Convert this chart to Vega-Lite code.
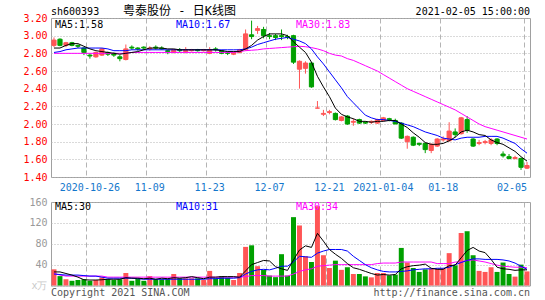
{
"$schema": "https://vega.github.io/schema/vega-lite/v6.json",
"padding": {"left": 20, "top": 4, "right": 5, "bottom": 0},
"background": "#ffffff",
"spacing": 3,
"config": {
  "view": {"stroke": "#a0a0a0", "strokeWidth": 1},
  "axis": {"labelFont": "DejaVu Sans Mono", "labelFontSize": 10, "domain": false, "ticks": false, "labelAngle": 0, "labelOverlap": false},
  "text": {"font": "DejaVu Sans Mono", "fontSize": 10}
},
"datasets": {"k": [
{"d":"2020-10-16","o":2.89,"h":2.98,"l":2.87,"c":2.95,"v":31,"m5":2.86,"m10":2.81,"m30":2.80,"vm5":26,"vm10":22,"vm30":23},
{"d":"2020-10-19","o":2.96,"h":2.97,"l":2.88,"c":2.89,"v":18,"m5":2.86,"m10":2.82,"m30":2.80,"vm5":26,"vm10":21,"vm30":20},
{"d":"2020-10-20","o":2.89,"h":2.93,"l":2.87,"c":2.92,"v":12,"m5":2.89,"m10":2.84,"m30":2.80,"vm5":23,"vm10":20,"vm30":18},
{"d":"2020-10-21","o":2.92,"h":2.93,"l":2.88,"c":2.89,"v":9,"m5":2.91,"m10":2.85,"m30":2.80,"vm5":20,"vm10":20,"vm30":18},
{"d":"2020-10-22","o":2.89,"h":2.90,"l":2.86,"c":2.88,"v":10.5,"m5":2.91,"m10":2.86,"m30":2.80,"vm5":16,"vm10":20,"vm30":18},
{"d":"2020-10-23","o":2.86,"h":2.87,"l":2.78,"c":2.81,"v":12,"m5":2.88,"m10":2.86,"m30":2.80,"vm5":11,"vm10":19,"vm30":18},
{"d":"2020-10-26","o":2.78,"h":2.80,"l":2.74,"c":2.77,"v":9,"m5":2.85,"m10":2.86,"m30":2.80,"vm5":10.5,"vm10":18,"vm30":18},
{"d":"2020-10-27","o":2.76,"h":2.82,"l":2.75,"c":2.81,"v":10.5,"m5":2.83,"m10":2.86,"m30":2.80,"vm5":10.5,"vm10":18,"vm30":18},
{"d":"2020-10-28","o":2.78,"h":2.86,"l":2.77,"c":2.85,"v":15.6,"m5":2.82,"m10":2.86,"m30":2.80,"vm5":11,"vm10":16,"vm30":18},
{"d":"2020-10-29","o":2.81,"h":2.82,"l":2.77,"c":2.79,"v":12,"m5":2.81,"m10":2.85,"m30":2.80,"vm5":12,"vm10":14,"vm30":16},
{"d":"2020-10-30","o":2.80,"h":2.81,"l":2.76,"c":2.78,"v":10.5,"m5":2.80,"m10":2.83,"m30":2.80,"vm5":12,"vm10":14,"vm30":16},
{"d":"2020-11-02","o":2.76,"h":2.78,"l":2.71,"c":2.74,"v":12,"m5":2.79,"m10":2.83,"m30":2.80,"vm5":12,"vm10":14,"vm30":16},
{"d":"2020-11-03","o":2.73,"h":2.90,"l":2.72,"c":2.85,"v":24,"m5":2.80,"m10":2.83,"m30":2.80,"vm5":15,"vm10":14,"vm30":16},
{"d":"2020-11-04","o":2.87,"h":2.89,"l":2.84,"c":2.86,"v":9,"m5":2.81,"m10":2.84,"m30":2.81,"vm5":14,"vm10":14,"vm30":16},
{"d":"2020-11-05","o":2.86,"h":2.87,"l":2.83,"c":2.85,"v":13,"m5":2.82,"m10":2.84,"m30":2.81,"vm5":14,"vm10":13,"vm30":16},
{"d":"2020-11-06","o":2.87,"h":2.88,"l":2.84,"c":2.86,"v":9,"m5":2.84,"m10":2.84,"m30":2.81,"vm5":13,"vm10":12,"vm30":16},
{"d":"2020-11-09","o":2.85,"h":2.88,"l":2.83,"c":2.86,"v":18,"m5":2.86,"m10":2.84,"m30":2.81,"vm5":14,"vm10":12,"vm30":16},
{"d":"2020-11-10","o":2.87,"h":2.89,"l":2.84,"c":2.86,"v":12,"m5":2.86,"m10":2.84,"m30":2.81,"vm5":12,"vm10":12,"vm30":16},
{"d":"2020-11-11","o":2.86,"h":2.88,"l":2.84,"c":2.85,"v":12,"m5":2.86,"m10":2.84,"m30":2.81,"vm5":14,"vm10":12,"vm30":16},
{"d":"2020-11-12","o":2.83,"h":2.84,"l":2.79,"c":2.82,"v":12,"m5":2.85,"m10":2.84,"m30":2.81,"vm5":13,"vm10":12,"vm30":16},
{"d":"2020-11-13","o":2.81,"h":2.85,"l":2.80,"c":2.84,"v":22,"m5":2.85,"m10":2.84,"m30":2.81,"vm5":15,"vm10":12,"vm30":16},
{"d":"2020-11-16","o":2.84,"h":2.86,"l":2.81,"c":2.83,"v":13.7,"m5":2.84,"m10":2.84,"m30":2.81,"vm5":14,"vm10":12,"vm30":16},
{"d":"2020-11-17","o":2.82,"h":2.87,"l":2.80,"c":2.84,"v":13.7,"m5":2.84,"m10":2.84,"m30":2.81,"vm5":15,"vm10":12,"vm30":16},
{"d":"2020-11-18","o":2.83,"h":2.85,"l":2.82,"c":2.84,"v":13.7,"m5":2.84,"m10":2.84,"m30":2.81,"vm5":17,"vm10":12,"vm30":16},
{"d":"2020-11-19","o":2.84,"h":2.85,"l":2.82,"c":2.83,"v":13.7,"m5":2.84,"m10":2.84,"m30":2.81,"vm5":15,"vm10":12,"vm30":16},
{"d":"2020-11-20","o":2.83,"h":2.85,"l":2.82,"c":2.84,"v":10.5,"m5":2.84,"m10":2.84,"m30":2.81,"vm5":13,"vm10":12,"vm30":16},
{"d":"2020-11-23","o":2.80,"h":2.87,"l":2.79,"c":2.84,"v":28,"m5":2.84,"m10":2.84,"m30":2.81,"vm5":16,"vm10":13,"vm30":16},
{"d":"2020-11-24","o":2.85,"h":2.87,"l":2.82,"c":2.84,"v":13.7,"m5":2.84,"m10":2.84,"m30":2.81,"vm5":16,"vm10":13,"vm30":16},
{"d":"2020-11-25","o":2.83,"h":2.84,"l":2.79,"c":2.80,"v":18,"m5":2.83,"m10":2.84,"m30":2.81,"vm5":17,"vm10":14,"vm30":16},
{"d":"2020-11-26","o":2.81,"h":2.82,"l":2.78,"c":2.80,"v":15,"m5":2.82,"m10":2.84,"m30":2.81,"vm5":17,"vm10":14,"vm30":16},
{"d":"2020-11-27","o":2.79,"h":2.82,"l":2.78,"c":2.81,"v":10.5,"m5":2.82,"m10":2.84,"m30":2.81,"vm5":17,"vm10":14,"vm30":16},
{"d":"2020-11-30","o":2.81,"h":2.85,"l":2.80,"c":2.84,"v":24,"m5":2.82,"m10":2.84,"m30":2.82,"vm5":16,"vm10":15,"vm30":16},
{"d":"2020-12-01","o":2.84,"h":3.07,"l":2.83,"c":3.02,"v":74,"m5":2.85,"m10":2.85,"m30":2.83,"vm5":28,"vm10":22,"vm30":17},
{"d":"2020-12-02","o":3.01,"h":3.17,"l":2.96,"c":2.99,"v":77,"m5":2.89,"m10":2.87,"m30":2.835,"vm5":40,"vm10":27,"vm30":19},
{"d":"2020-12-03","o":3.06,"h":3.11,"l":3.02,"c":3.08,"v":37,"m5":2.95,"m10":2.90,"m30":2.84,"vm5":44,"vm10":30,"vm30":19},
{"d":"2020-12-04","o":3.07,"h":3.10,"l":2.97,"c":3.00,"v":30,"m5":2.99,"m10":2.92,"m30":2.85,"vm5":48,"vm10":31,"vm30":19},
{"d":"2020-12-07","o":3.00,"h":3.03,"l":2.96,"c":2.99,"v":19,"m5":3.02,"m10":2.94,"m30":2.855,"vm5":47,"vm10":30,"vm30":18},
{"d":"2020-12-08","o":3.00,"h":3.02,"l":2.95,"c":2.98,"v":16,"m5":3.02,"m10":2.96,"m30":2.86,"vm5":36,"vm10":33,"vm30":18},
{"d":"2020-12-09","o":3.00,"h":3.07,"l":2.95,"c":2.99,"v":60,"m5":3.02,"m10":2.97,"m30":2.865,"vm5":32,"vm10":37,"vm30":18},
{"d":"2020-12-10","o":2.99,"h":3.01,"l":2.96,"c":2.98,"v":19,"m5":3.00,"m10":2.98,"m30":2.87,"vm5":29,"vm10":37,"vm30":18},
{"d":"2020-12-11","o":3.00,"h":3.01,"l":2.68,"c":2.70,"v":131,"m5":2.93,"m10":2.96,"m30":2.875,"vm5":49,"vm10":45,"vm30":22},
{"d":"2020-12-14","o":2.62,"h":2.72,"l":2.40,"c":2.71,"v":115,"m5":2.87,"m10":2.94,"m30":2.88,"vm5":68,"vm10":56,"vm30":27},
{"d":"2020-12-15","o":2.63,"h":2.71,"l":2.57,"c":2.69,"v":56,"m5":2.81,"m10":2.91,"m30":2.875,"vm5":76,"vm10":55,"vm30":30},
{"d":"2020-12-16","o":2.69,"h":2.70,"l":2.41,"c":2.42,"v":45,"m5":2.70,"m10":2.85,"m30":2.865,"vm5":73,"vm10":54,"vm30":32},
{"d":"2020-12-17","o":2.18,"h":2.26,"l":2.18,"c":2.18,"v":152,"m5":2.54,"m10":2.76,"m30":2.85,"vm5":100,"vm10":62,"vm30":37},
{"d":"2020-12-18","o":2.11,"h":2.16,"l":2.09,"c":2.12,"v":58,"m5":2.42,"m10":2.68,"m30":2.83,"vm5":85,"vm10":66,"vm30":38},
{"d":"2020-12-21","o":2.13,"h":2.16,"l":2.11,"c":2.14,"v":33.5,"m5":2.31,"m10":2.59,"m30":2.80,"vm5":69,"vm10":69,"vm30":39},
{"d":"2020-12-22","o":2.12,"h":2.13,"l":2.04,"c":2.05,"v":47.6,"m5":2.18,"m10":2.50,"m30":2.78,"vm5":60,"vm10":69,"vm30":40},
{"d":"2020-12-23","o":2.04,"h":2.09,"l":2.03,"c":2.08,"v":30,"m5":2.11,"m10":2.41,"m30":2.77,"vm5":52,"vm10":69,"vm30":40},
{"d":"2020-12-24","o":2.09,"h":2.10,"l":1.99,"c":2.00,"v":35,"m5":2.08,"m10":2.31,"m30":2.74,"vm5":42,"vm10":66,"vm30":40},
{"d":"2020-12-25","o":2.02,"h":2.06,"l":1.98,"c":2.03,"v":22,"m5":2.06,"m10":2.24,"m30":2.72,"vm5":34,"vm10":56,"vm30":40},
{"d":"2020-12-28","o":2.05,"h":2.06,"l":2.00,"c":2.01,"v":22,"m5":2.03,"m10":2.17,"m30":2.69,"vm5":31,"vm10":48,"vm30":40},
{"d":"2020-12-29","o":2.02,"h":2.03,"l":2.00,"c":2.01,"v":17.5,"m5":2.03,"m10":2.10,"m30":2.66,"vm5":27,"vm10":40,"vm30":40},
{"d":"2020-12-30","o":2.02,"h":2.04,"l":2.00,"c":2.03,"v":15.6,"m5":2.02,"m10":2.07,"m30":2.63,"vm5":23,"vm10":34,"vm30":40},
{"d":"2020-12-31","o":2.01,"h":2.06,"l":2.00,"c":2.05,"v":24,"m5":2.03,"m10":2.05,"m30":2.60,"vm5":20,"vm10":30,"vm30":42},
{"d":"2021-01-04","o":2.04,"h":2.08,"l":2.03,"c":2.07,"v":24,"m5":2.03,"m10":2.05,"m30":2.56,"vm5":21,"vm10":27,"vm30":43},
{"d":"2021-01-05","o":2.06,"h":2.07,"l":2.03,"c":2.05,"v":19.5,"m5":2.04,"m10":2.04,"m30":2.52,"vm5":20,"vm10":26,"vm30":43},
{"d":"2021-01-06","o":2.04,"h":2.06,"l":2.00,"c":2.00,"v":20.8,"m5":2.04,"m10":2.03,"m30":2.48,"vm5":21,"vm10":26,"vm30":43},
{"d":"2021-01-07","o":2.01,"h":2.02,"l":1.83,"c":1.84,"v":72,"m5":2.00,"m10":2.01,"m30":2.44,"vm5":32,"vm10":27,"vm30":45},
{"d":"2021-01-08","o":1.80,"h":1.87,"l":1.72,"c":1.86,"v":44,"m5":1.96,"m10":1.99,"m30":2.40,"vm5":36,"vm10":28,"vm30":45},
{"d":"2021-01-11","o":1.85,"h":1.86,"l":1.75,"c":1.76,"v":33.5,"m5":1.90,"m10":1.97,"m30":2.37,"vm5":38,"vm10":30,"vm30":45},
{"d":"2021-01-12","o":1.78,"h":1.79,"l":1.75,"c":1.77,"v":26,"m5":1.85,"m10":1.94,"m30":2.34,"vm5":39,"vm10":31,"vm30":45},
{"d":"2021-01-13","o":1.78,"h":1.79,"l":1.67,"c":1.71,"v":31,"m5":1.79,"m10":1.91,"m30":2.31,"vm5":41,"vm10":32,"vm30":45},
{"d":"2021-01-14","o":1.70,"h":1.78,"l":1.67,"c":1.77,"v":32,"m5":1.77,"m10":1.89,"m30":2.28,"vm5":33,"vm10":32,"vm30":45},
{"d":"2021-01-15","o":1.75,"h":1.84,"l":1.74,"c":1.83,"v":32,"m5":1.77,"m10":1.87,"m30":2.25,"vm5":31,"vm10":33,"vm30":42},
{"d":"2021-01-18","o":1.82,"h":1.86,"l":1.80,"c":1.83,"v":32,"m5":1.78,"m10":1.84,"m30":2.22,"vm5":31,"vm10":33,"vm30":42},
{"d":"2021-01-19","o":1.81,"h":2.02,"l":1.80,"c":1.92,"v":62,"m5":1.81,"m10":1.83,"m30":2.19,"vm5":38,"vm10":35,"vm30":42},
{"d":"2021-01-20","o":1.91,"h":1.95,"l":1.85,"c":1.88,"v":38.6,"m5":1.85,"m10":1.82,"m30":2.16,"vm5":39,"vm10":40,"vm30":45},
{"d":"2021-01-21","o":1.89,"h":2.08,"l":1.88,"c":2.07,"v":100.6,"m5":1.91,"m10":1.84,"m30":2.12,"vm5":53,"vm10":44,"vm30":45},
{"d":"2021-01-22","o":2.05,"h":2.09,"l":1.90,"c":1.93,"v":104,"m5":1.93,"m10":1.85,"m30":2.08,"vm5":67,"vm10":48,"vm30":48},
{"d":"2021-01-25","o":1.83,"h":1.84,"l":1.74,"c":1.75,"v":58,"m5":1.91,"m10":1.85,"m30":2.04,"vm5":73,"vm10":51,"vm30":49},
{"d":"2021-01-26","o":1.78,"h":1.82,"l":1.76,"c":1.79,"v":28,"m5":1.88,"m10":1.85,"m30":2.00,"vm5":66,"vm10":51,"vm30":47},
{"d":"2021-01-27","o":1.79,"h":1.82,"l":1.77,"c":1.80,"v":26,"m5":1.87,"m10":1.86,"m30":1.97,"vm5":63,"vm10":50,"vm30":45},
{"d":"2021-01-28","o":1.78,"h":1.84,"l":1.76,"c":1.82,"v":35,"m5":1.82,"m10":1.86,"m30":1.95,"vm5":50,"vm10":50,"vm30":42},
{"d":"2021-01-29","o":1.83,"h":1.84,"l":1.76,"c":1.78,"v":26,"m5":1.79,"m10":1.86,"m30":1.93,"vm5":35,"vm10":50,"vm30":39},
{"d":"2021-02-01","o":1.66,"h":1.69,"l":1.62,"c":1.64,"v":44,"m5":1.77,"m10":1.84,"m30":1.91,"vm5":32,"vm10":49,"vm30":37},
{"d":"2021-02-02","o":1.63,"h":1.66,"l":1.60,"c":1.61,"v":22,"m5":1.73,"m10":1.81,"m30":1.89,"vm5":31,"vm10":47,"vm30":36},
{"d":"2021-02-03","o":1.61,"h":1.64,"l":1.60,"c":1.62,"v":17,"m5":1.69,"m10":1.78,"m30":1.87,"vm5":29,"vm10":43,"vm30":35},
{"d":"2021-02-04","o":1.61,"h":1.62,"l":1.48,"c":1.51,"v":40,"m5":1.63,"m10":1.72,"m30":1.85,"vm5":30,"vm10":37,"vm30":35},
{"d":"2021-02-05","o":1.50,"h":1.57,"l":1.49,"c":1.53,"v":27,"m5":1.58,"m10":1.67,"m30":1.83,"vm5":30,"vm10":31,"vm30":34}
]},
"vconcat": [
{
  "width": 479, "height": 159,
  "data": {"name": "k"},
  "encoding": {"x": {"field": "d", "type": "ordinal", "title": null,
    "scale": {"type": "band", "paddingInner": 0, "paddingOuter": 0},
    "axis": {"values": ["2020-10-26","2020-11-09","2020-11-23","2020-12-07","2020-12-21","2021-01-04","2021-01-18","2021-02-05"],
      "bandPosition": 0, "grid": true, "gridColor": "#b4b4b4", "gridDash": [5,3], "gridWidth": 1,
      "labelColor": "#1477cc", "labelPadding": 5, "labelBaseline": "top", "labelOverlap": false,
      "labelExpr": "datum.value == '2020-10-26' || datum.value == '2021-01-04' ? datum.value : slice(datum.value, 5)",
      "labelAlign": {"condition": {"test": "datum.value == '2021-02-05'", "value": "right"}, "value": "center"},
      "minExtent": 15, "maxExtent": 15}}},
  "layer": [
    {"mark": {"type": "rule", "strokeWidth": 1},
     "encoding": {
       "y": {"field": "l", "type": "quantitative", "title": null,
         "scale": {"domain": [1.4, 3.2], "zero": false, "nice": false},
         "axis": {"values": [1.4,1.6,1.8,2.0,2.2,2.4,2.6,2.8,3.0,3.2], "tickCount": 20, "format": ".2f", "labelColor": "#ff0000", "labelFlush": false,
           "grid": true, "gridColor": "#b4b4b4", "gridDash": [1,2], "labelPadding": 4, "minExtent": 30, "maxExtent": 30}},
       "y2": {"field": "h"},
       "color": {"condition": {"test": "datum.c >= datum.o", "value": "#ff5555"}, "value": "#00a000"}}},
    {"mark": {"type": "bar", "width": {"band": 0.7}, "strokeWidth": 1},
     "encoding": {
       "y": {"field": "o", "type": "quantitative", "title": null},
       "y2": {"field": "c"},
       "fill": {"condition": {"test": "datum.c >= datum.o", "value": "#ff5555"}, "value": "#00a000"},
       "stroke": {"condition": {"test": "datum.c >= datum.o", "value": "#ff5555"}, "value": "#00a000"}}},
    {"mark": {"type": "line", "color": "#ff00ff", "strokeWidth": 1},
     "encoding": {"y": {"field": "m30", "type": "quantitative", "title": null}}},
    {"mark": {"type": "line", "color": "#0000ff", "strokeWidth": 1},
     "encoding": {"y": {"field": "m10", "type": "quantitative", "title": null}}},
    {"mark": {"type": "line", "color": "#000000", "strokeWidth": 1},
     "encoding": {"y": {"field": "m5", "type": "quantitative", "title": null}}},
    {"data": {"values": [{}]},
     "mark": {"type": "text", "text": "sh600393", "align": "left", "baseline": "alphabetic", "dx": -3, "dy": -3, "color": "#000000"},
     "encoding": {"x": {"datum": "2020-10-16", "type": "ordinal"}, "y": {"datum": 3.2, "type": "quantitative"}}},
    {"data": {"values": [{}]},
     "mark": {"type": "text", "text": "粤泰股份 - 日K线图", "font": "DejaVu Sans Mono, Noto Sans CJK SC", "fontSize": 12, "align": "left", "baseline": "alphabetic", "dx": 69, "dy": -3, "color": "#000000"},
     "encoding": {"x": {"datum": "2020-10-16", "type": "ordinal"}, "y": {"datum": 3.2, "type": "quantitative"}}},
    {"data": {"values": [{}]},
     "mark": {"type": "text", "text": "2021-02-05 15:00:00", "align": "right", "baseline": "alphabetic", "dx": 3, "dy": -3, "color": "#000000"},
     "encoding": {"x": {"datum": "2021-02-05", "type": "ordinal"}, "y": {"datum": 3.2, "type": "quantitative"}}},
    {"data": {"values": [{}]},
     "mark": {"type": "text", "text": "MA5:1.58", "align": "left", "baseline": "top", "dx": 1, "dy": 2, "color": "#000000"},
     "encoding": {"x": {"datum": "2020-10-16", "type": "ordinal"}, "y": {"datum": 3.2, "type": "quantitative"}}},
    {"data": {"values": [{}]},
     "mark": {"type": "text", "text": "MA10:1.67", "align": "left", "baseline": "top", "dx": 122, "dy": 2, "color": "#0000ff"},
     "encoding": {"x": {"datum": "2020-10-16", "type": "ordinal"}, "y": {"datum": 3.2, "type": "quantitative"}}},
    {"data": {"values": [{}]},
     "mark": {"type": "text", "text": "MA30:1.83", "align": "left", "baseline": "top", "dx": 242, "dy": 2, "color": "#ff00ff"},
     "encoding": {"x": {"datum": "2020-10-16", "type": "ordinal"}, "y": {"datum": 3.2, "type": "quantitative"}}}
  ]
},
{
  "width": 479, "height": 83.5,
  "data": {"name": "k"},
  "encoding": {"x": {"field": "d", "type": "ordinal", "title": null,
    "scale": {"type": "band", "paddingInner": 0, "paddingOuter": 0},
    "axis": {"values": ["2020-10-26","2020-11-09","2020-11-23","2020-12-07","2020-12-21","2021-01-04","2021-01-18","2021-02-05"],
      "bandPosition": 0, "grid": true, "gridColor": "#b4b4b4", "gridDash": [5,3], "labels": false, "minExtent": 0, "maxExtent": 0}}},
  "layer": [
    {"mark": {"type": "bar", "width": {"band": 0.83}},
     "encoding": {
       "y": {"field": "v", "type": "quantitative", "title": null,
         "scale": {"domain": [0, 160], "nice": false},
         "axis": {"values": [0,40,80,120,160], "tickCount": 20, "grid": true, "gridColor": "#b4b4b4", "gridDash": [1,2], "labelFlush": false,
           "labelExpr": "datum.value == 0 ? 'x万' : datum.label",
           "labelColor": {"condition": {"test": "datum.value == 0", "value": "#c8c8c8"}, "value": "#999999"},
           "labelPadding": 4, "minExtent": 30, "maxExtent": 30}},
       "color": {"condition": {"test": "datum.c >= datum.o", "value": "#ff5555"}, "value": "#00a000"}}},
    {"mark": {"type": "line", "color": "#ff00ff", "strokeWidth": 1},
     "encoding": {"y": {"field": "vm30", "type": "quantitative", "title": null}}},
    {"mark": {"type": "line", "color": "#0000ff", "strokeWidth": 1},
     "encoding": {"y": {"field": "vm10", "type": "quantitative", "title": null}}},
    {"mark": {"type": "line", "color": "#000000", "strokeWidth": 1},
     "encoding": {"y": {"field": "vm5", "type": "quantitative", "title": null}}},
    {"data": {"values": [{}]},
     "mark": {"type": "text", "text": "MA5:30", "align": "left", "baseline": "top", "dx": 1, "dy": 0, "color": "#000000"},
     "encoding": {"x": {"datum": "2020-10-16", "type": "ordinal"}, "y": {"datum": 160, "type": "quantitative"}}},
    {"data": {"values": [{}]},
     "mark": {"type": "text", "text": "MA10:31", "align": "left", "baseline": "top", "dx": 122, "dy": 0, "color": "#0000ff"},
     "encoding": {"x": {"datum": "2020-10-16", "type": "ordinal"}, "y": {"datum": 160, "type": "quantitative"}}},
    {"data": {"values": [{}]},
     "mark": {"type": "text", "text": "MA30:34", "align": "left", "baseline": "top", "dx": 242, "dy": 0, "color": "#ff00ff"},
     "encoding": {"x": {"datum": "2020-10-16", "type": "ordinal"}, "y": {"datum": 160, "type": "quantitative"}}},
    {"data": {"values": [{}]},
     "mark": {"type": "text", "text": "Copyright 2021 SINA.COM", "align": "left", "baseline": "alphabetic", "dx": -3, "dy": 10, "color": "#555555"},
     "encoding": {"x": {"datum": "2020-10-16", "type": "ordinal"}, "y": {"datum": 0, "type": "quantitative"}}},
    {"data": {"values": [{}]},
     "mark": {"type": "text", "text": "http://finance.sina.com.cn", "align": "right", "baseline": "alphabetic", "dx": 3, "dy": 10, "color": "#555555"},
     "encoding": {"x": {"datum": "2021-02-05", "type": "ordinal"}, "y": {"datum": 0, "type": "quantitative"}}}
  ]
}
]
}
